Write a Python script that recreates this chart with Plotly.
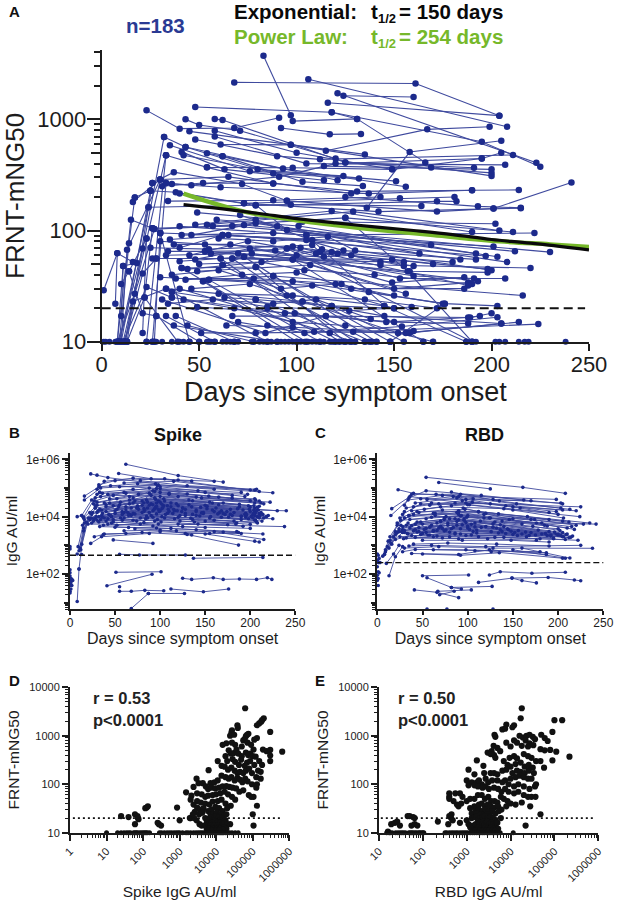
import plotly.graph_objects as go

FONT = "Liberation Sans"
NAVY = "#1c2a8c"
LINE = "#3f4a9e"
INK = "#1c1c1c"
GREEN = "#76b82a"

# Panel A: one list per participant, (day, FRNT-mNG50)
a_top = [
    [(68,2150),(161,2100),(204,1080)], [(83,3740),(97,1090)], [(106,2300),(208,858)],
    [(121,1715),(223,407)], [(124,1630),(160,1590)], [(116,1410),(204,1080)],
    [(48,1290),(118,1160),(131,1010),(166,410),(169,369)], [(23,1205),(40,825),(68,835),(91,1035)],
    [(43,1000),(50,890),(71,790),(120,445)], [(58,1010),(62,985),(125,410),(191,367)],
    [(98,965),(131,1010)], [(92,835),(117,733),(133,740)], [(115,522),(167,813),(199,858)],
    [(118,1160),(195,630),(225,375)], [(136,160),(158,508),(205,642)], [(45,780),(97,590),(135,484)],
    [(58,790),(100,500),(149,355),(195,445),(205,500)], [(32,695),(43,565),(88,326),(132,294)],
    [(35,585),(76,342),(124,310)], [(48,660),(90,467),(112,437),(211,478)], [(43,565),(93,362),(156,248)],
    [(41,510),(63,355),(114,283)], [(42,475),(80,355),(151,278)], [(33,475),(54,370),(98,367),(149,355)],
    [(61,595),(97,590),(200,310)], [(54,495),(62,467),(121,283)], [(58,700),(105,400),(207,390)],
    [(62,467),(103,275),(134,252)], [(54,370),(88,265)], [(26,268),(37,335),(72,262),(95,185)],
    [(30,288),(65,304),(128,215)], [(33,268),(46,256),(91,304),(120,400),(195,445)],
    [(36,262),(61,245),(137,215),(190,230),(214,232)], [(31,250),(52,268),(88,265),(131,225),(190,230)],
    [(25,228),(38,221),(73,176),(153,195),(181,200)], [(17,198),(25,228)], [(16,181),(30,288)],
    [(40,215),(79,168),(172,183),(182,183)], [(34,184),(88,187),(143,200)], [(24,162),(97,171),(164,166)],
    [(201,158),(241,270)], [(125,200),(193,165),(215,160)], [(95,185),(172,148),(201,158)],
    [(73,176),(142,148),(215,159)], [(114,380),(200,355)], [(125,410),(200,330)],
]
a_mid = [
    [(49,145),(103,120),(202,115)], [(48,113),(118,150),(190,97)], [(54,113),(129,148),(204,100)],
    [(57,110),(125,130),(211,97)], [(40,109),(105,91),(222,95)], [(30,95),(62,91),(169,74)],
    [(41,91),(88,95),(201,72)], [(46,91),(79,116),(192,62)], [(35,83),(65,91),(197,59)],
    [(26,105),(67,110),(212,65)], [(27,103),(73,112),(230,64)], [(59,125),(101,110),(203,58)],
    [(71,138),(108,82),(184,55)], [(79,170),(95,101),(208,52)], [(79,125),(90,109),(163,62)],
    [(34,65),(53,65),(143,49),(220,46)], [(26,56),(61,56),(155,52)], [(28,56),(67,56),(149,55),(198,45)],
    [(40,53),(73,58),(158,43),(198,42)], [(48,55),(76,69),(160,39),(191,37)], [(53,65),(89,66),(149,34),(186,38)],
    [(56,62),(95,69),(153,37),(207,37)], [(62,49),(77,62),(193,35)], [(41,46),(79,47),(98,72),(188,32)],
    [(44,45),(98,55),(150,30),(188,34)], [(49,43),(107,49),(156,27)], [(52,35),(88,39),(216,26)],
    [(55,36),(98,35),(176,22),(203,21)], [(38,37),(78,37),(123,33),(137,28),(175,22)],
    [(60,27),(98,26),(145,21)], [(63,25),(79,24),(118,21),(150,20)], [(30,38),(108,32),(150,20)],
    [(36,28),(85,20.6),(127,19),(159,20.5)], [(33,30),(103,23),(145,17),(205,14.6)],
    [(36,25),(94,18),(150,15),(188,14.6)], [(31,24),(84,12),(115,17)],
    [(49,20.5),(99,18),(146,15),(188,16.5),(194,17)], [(67,17),(115,17),(189,16.5),(200,18)],
    [(70,15),(104,12),(154,13.7),(203,16.6)], [(64,14),(98,13.5),(156,12),(214,15)],
    [(51,12),(79,12),(129,12.3),(224,14.4)], [(85,14),(109,12.3),(158,12),(205,14.6)],
]
a_extra = [
    [(40,70),(62,91),(105,82),(124,66),(192,55)], [(30,80),(53,75),(102,70),(118,64),(180,52)],
    [(25,70),(55,68),(108,74),(112,64),(170,50)], [(45,60),(75,80),(110,62),(121,62),(160,48)],
    [(33,60),(70,62),(114,58),(128,60),(143,52)], [(60,85),(88,80),(116,88),(130,66),(200,44)],
    [(37,75),(66,75),(100,60),(113,68),(155,48)], [(50,50),(82,52),(104,44),(140,40),(190,33)],
    [(43,36),(72,40),(100,42),(128,30),(186,30)], [(36,40),(60,44),(92,30),(120,33),(150,26)],
    [(46,30),(76,33),(95,26),(135,24),(172,20)], [(34,22),(57,24),(88,22),(110,24),(138,16)],
    [(42,24),(68,20),(98,15),(125,14),(160,12.5)],
]
a_falling = [
    [(30,95),(45,10)], [(22,25),(39,10)], [(28,17),(50,10)], [(33,17),(58,10)], [(38,17),(68,10)],
    [(36,28),(85,10)], [(44,14),(78,10)], [(52,35),(100,10)], [(55,36),(112,10)], [(61,56),(122,10)],
    [(41,46),(105,10)], [(67,56),(130,10)], [(62,49),(138,10)], [(79,47),(125,10)], [(88,39),(148,10)],
    [(73,58),(141,10)], [(98,55),(165,10)], [(95,69),(190,10)], [(125,130),(157,43),(190,10)],
    [(148,10),(176,22)], [(105,91),(145,21),(187,10)], [(37,14),(90,10)], [(79,24),(135,10)],
    [(103,23),(152,12),(170,10)], [(118,21),(155,10)], [(85,20),(120,10)], [(40,30),(117,12),(128,10)],
]
a_rising = [
    [(8,10),(15,125),(26,105)], [(9,10),(24,162)], [(10,10),(25,228)], [(11,10),(33,475)],
    [(12,10),(32,695)], [(13,10),(26,268)], [(8,10),(11,48),(18,51)], [(9,10),(14,77),(17,198)],
    [(10,10),(13,67),(30,288)], [(7,22),(8,62.5),(16,52)], [(1,29),(8,62.5)], [(10,17),(11,48)],
    [(10,33),(14,43),(23,85)], [(9,10),(21,69)], [(11,10),(23,31),(36,25)], [(12,10),(16,23),(33,30)],
    [(8,10),(17,27),(27,103)], [(13,10),(22,25),(26,105)], [(12,10),(21,41),(28,56)],
    [(14,43),(21,18),(28,17)], [(21,12),(23,85)], [(27,10),(30,95)], [(23,10),(33,475)], [(26,10),(33,268)],
]
a_floor_days = [1,2,4,7,8,9,10,11,13,23,26,27,28,31,36,40,42,45,50,54,55,56,58,62,64,66,68,70,77,81,83,85,
                87,90,92,94,96,98,100,102,104,106,108,110,112,114,117,118,119,124,125,127,128,130,135,137,
                139,141,148,165,170,187,190,192,202,204,207,214,217,219,238]
exp_days = [42,60,80,100,120,140,160,180,200,220,250]
exp_frnt = [171,158,143,128,117,108,100,92,83,77,67]
pow_days = [42,55,71,81,100,112,140,170,204,230,250]
pow_frnt = [215,181,151,139,124,116,102,91,80,75,71]

# Panel B: Spike IgG, (day, AU/ml)
b_upper = [
    [(23,310000),(30,280000),(42,230000),(95,140000)], [(54,320000),(90,210000),(120,190000),(160,170000)],
    [(62,670000),(120,270000),(170,160000)], [(30,90000),(38,170000),(70,220000),(135,175000)],
    [(32,130000),(50,180000),(105,210000),(210,75000)], [(16,52000),(32,110000),(75,140000),(205,85000)],
    [(16,38000),(34,100000),(98,130000),(225,68000)], [(60,150000),(115,170000),(200,85000)],
    [(45,120000),(100,95000),(190,70000)], [(55,110000),(97,120000),(160,90000)],
    [(78,180000),(130,120000),(207,90000)], [(33,70000),(70,90000),(150,70000)],
    [(36,65000),(92,80000),(197,60000)], [(42,60000),(88,100000),(180,55000)],
    [(28,45000),(60,70000),(140,48000),(205,42000)], [(27,35000),(48,55000),(120,50000),(222,32000)],
    [(30,32000),(66,50000),(110,60000),(215,28000)], [(26,28000),(52,42000),(132,38000),(210,35000)],
]
b_main = [
    [(15,9000),(30,25000),(82,30000),(205,20000)], [(24,12000),(55,26000),(100,32000),(200,22000)],
    [(28,20000),(70,30000),(150,25000),(230,16000)], [(31,16000),(62,22000),(125,20000),(240,16000)],
    [(22,8000),(40,22000),(95,40000),(198,24000)], [(25,14000),(72,35000),(165,26000)],
    [(33,18000),(85,38000),(170,30000),(210,23000)], [(36,13000),(90,28000),(178,18000)],
    [(40,26000),(94,45000),(155,32000)], [(44,30000),(100,50000),(205,30000)],
    [(48,24000),(105,35000),(188,22000)], [(35,11000),(76,18000),(140,17000),(220,11000)],
    [(29,10000),(58,15000),(116,16000),(212,14000)], [(22,9000),(50,13000),(102,19000),(195,13000)],
    [(16,6000),(32,10000),(80,14000),(148,13000),(208,10000)], [(14,5000),(28,9000),(66,12000),(128,11000)],
    [(27,8500),(46,10000),(108,13000),(190,10000)], [(34,8000),(68,11000),(120,9500),(225,8500)],
    [(38,9000),(92,16000),(172,12000),(215,9000)], [(43,12000),(86,20000),(160,15000),(205,11000)],
    [(52,18000),(96,30000),(145,21000),(200,15000)], [(60,14000),(104,24000),(168,16000),(210,13000)],
    [(65,11000),(110,15000),(180,11000)], [(75,24000),(118,28000),(192,17000)],
    [(82,19000),(125,20000),(203,12000)], [(88,25000),(135,22000),(209,17000)],
    [(56,9000),(92,9500),(155,9000),(205,7500)], [(40,7000),(84,8500),(136,8000),(207,6500)],
    [(30,7500),(70,7500),(122,7000),(185,6000)], [(24,6000),(48,6500),(98,5500),(175,5200)],
    [(20,5500),(42,5500),(92,4700),(150,4200)], [(37,5000),(78,5500),(125,4500),(200,3900)],
    [(33,4500),(65,4200),(112,3900),(185,3000)], [(50,4300),(96,4000),(140,3500),(187,2800)],
    [(60,3200),(100,3400),(128,2600),(190,2600)], [(72,3800),(118,3200),(170,2900),(214,2500)],
    [(38,2500),(62,2600),(100,3000),(155,2600)], [(27,2000),(37,2400),(80,2800),(135,2300)],
    [(23,1170),(35,2000),(88,2600)], [(48,1550),(92,1170)], [(130,2400),(187,1020)],
    [(150,2500),(205,1400),(210,1300)], [(160,3000),(215,1600)], [(120,5500),(238,4500)],
    [(8,10000),(13,11000),(15,9500)], [(13,11000),(24,38000),(33,70000)], [(15,9500),(30,60000)],
    [(10,150),(15,3200),(28,20000)], [(8,11),(10,150)], [(9,900),(16,8000)], [(11,800),(18,6500)],
    [(13,1100),(20,9000)], [(12,700),(22,14000)], [(10,650),(15,4000),(24,9000)],
]
b_dense = [
    [(30,14000),(68,20000),(102,27000),(152,19000),(206,14000)], [(35,17000),(75,22000),(108,24000),(158,17000),(214,12000)],
    [(40,15000),(80,25000),(112,22000),(162,20000),(199,18000)], [(45,11000),(83,17000),(95,21000),(166,14000),(203,9000)],
    [(50,16000),(88,14000),(115,18000),(170,13000),(218,10000)], [(54,22000),(92,26000),(120,24000),(174,15000),(207,16000)],
    [(58,12000),(94,19000),(124,15000),(178,12000),(195,9500)], [(62,17000),(96,23000),(128,18000),(182,14000),(211,11000)],
    [(66,28000),(98,35000),(132,26000),(186,19000),(208,21000)], [(70,13000),(100,16000),(136,12000),(190,10500)],
    [(74,20000),(103,21000),(140,15000),(194,12000),(204,13500)], [(78,9000),(106,12000),(144,10500),(198,8500)],
    [(82,15000),(109,18000),(148,14000),(201,10000)], [(86,32000),(112,30000),(152,23000),(204,16500)],
    [(90,11000),(114,13000),(156,10000),(206,7500)], [(94,7000),(116,8500),(160,7500),(208,6000)],
    [(98,18000),(119,16000),(164,12500),(210,9000)], [(102,10000),(122,11000),(168,9500),(213,7000)],
    [(32,6500),(60,9000),(96,12500),(140,11000),(190,8000)], [(42,8500),(72,12500),(99,15000),(146,13500),(196,11500)],
    [(26,7000),(48,8000),(85,10500),(134,9000),(182,7000)], [(36,9500),(64,14000),(93,17500),(128,13000),(176,9500)],
    [(46,6000),(74,7000),(97,8000),(138,6500),(184,5500)], [(52,5000),(82,6200),(101,6500),(142,5500),(192,4600)],
    [(58,7500),(86,9000),(105,9000),(150,7000),(200,5400)], [(38,30000),(66,38000),(104,42000),(158,30000),(204,24000)],
    [(28,24000),(56,32000),(90,55000),(136,36000),(188,27000)], [(44,42000),(76,60000),(100,70000),(146,45000),(200,36000)],
    [(34,50000),(62,65000),(94,75000),(154,52000),(206,38000)], [(70,45000),(96,95000),(130,62000),(180,44000)],
    [(80,35000),(100,110000),(142,80000),(194,50000)], [(88,65000),(110,65000),(165,48000),(212,30000)],
]
b_lower = [
    [(51,115),(101,120)], [(41,39),(91,98)], [(55,25),(68,25),(83,27),(104,26)], [(87,21),(127,21)],
    [(112,30),(148,24),(176,30)], [(68,6.3),(87,21)],
    [(125,71),(135,65),(159,74),(170,65),(188,67),(207,65),(219,74),(224,65)],
    [(137,355),(214,380)], [(55,490),(77,460),(128,460)], [(8,500),(13,480)],
]
b_single_day = [0,0,0,0,0,1,1,1,1,1,2,2,3,0,0,55]
b_single_igg = [900,750,140,110,85,70,60,50,40,30,65,40,60,25,22,36]

# Panel C: RBD IgG, (day, AU/ml)
c_upper = [
    [(54,235000),(161,105000),(208,65000)], [(68,155000),(125,93000)], [(23,87000),(40,65000),(90,50000)],
    [(35,45000),(54,80000),(115,55000),(205,28000)], [(30,25000),(38,60000),(92,60000),(162,38000)],
    [(16,19000),(36,50000),(98,30000),(225,22000)], [(15,11000),(34,38000),(72,55000),(198,40000)],
    [(48,42000),(98,40000),(170,36000)], [(65,60000),(128,40000),(203,30000)], [(82,72000),(135,35000),(213,18000)],
    [(42,30000),(88,45000),(150,22000),(220,16000)], [(32,20000),(60,30000),(125,28000),(205,17000)],
    [(28,12000),(48,28000),(102,26000),(190,14000)], [(38,16000),(70,22000),(140,19000),(224,10000)],
    [(25,9000),(44,15000),(112,15000),(235,6000)],
]
c_main = [
    [(22,6000),(40,12000),(90,12000),(170,8000)], [(30,9000),(64,13000),(118,12000),(205,7000)],
    [(35,11000),(76,10000),(150,8500),(228,5500)], [(26,7500),(54,8500),(100,11000),(215,4500)],
    [(32,5000),(70,7000),(130,6500),(242,5500)], [(20,3000),(42,5500),(96,8500),(160,5500)],
    [(24,3800),(50,5500),(108,6000),(200,3800)], [(28,3500),(60,5000),(120,4500),(190,3000)],
    [(22,2800),(46,4200),(88,5000),(145,3500),(210,2500)], [(27,3000),(52,3600),(100,4000),(170,2800)],
    [(30,2800),(66,3300),(92,3800),(138,3000),(200,2300)], [(33,2600),(74,3200),(126,3000),(192,2100)],
    [(36,4000),(82,3800),(134,2700),(188,2200)], [(40,3200),(86,2700),(142,2600),(205,2000)],
    [(44,2900),(92,2500),(150,2400),(214,1900)], [(48,2400),(98,2200),(155,2200),(195,1800)],
    [(25,2000),(56,2300),(104,2300),(165,2000)], [(29,1700),(62,2000),(112,2000),(180,1700)],
    [(20,1600),(38,2200),(80,2000),(130,1900),(208,1600)], [(32,1800),(72,1800),(122,1700),(176,1500)],
    [(42,1900),(90,1700),(140,1900),(222,1500)], [(50,1500),(94,1500),(148,1500),(190,1300)],
    [(54,2800),(110,3400),(175,2300)], [(68,4000),(115,4200),(182,2500)], [(78,6000),(128,4300),(198,2500)],
    [(86,8500),(136,5200),(205,2800)], [(95,20000),(146,8000),(210,4000)], [(90,15000),(125,9000),(185,5000)],
    [(40,1100),(78,1200),(132,1100),(190,950)], [(35,950),(60,1000),(120,900),(225,1000)],
    [(30,800),(68,900),(128,800),(238,790)], [(62,700),(108,650),(180,600)], [(50,500),(92,450),(135,550)],
    [(28,600),(42,720),(98,700),(187,550)], [(38,520),(90,480),(124,700),(187,480)],
    [(126,600),(205,355)], [(150,700),(208,355)], [(160,800),(213,360)], [(14,2000),(22,5000),(35,11000)],
    [(16,1100),(24,3000),(34,6000)], [(8,500),(13,800),(20,2400)], [(10,235),(18,500),(24,1000)],
    [(13,87),(20,400),(28,900)], [(9,600),(15,1200),(28,2800)], [(11,900),(18,2000),(26,5000)],
    [(6,420),(9,700),(12,1400)], [(8,480),(14,1500),(30,15000)],
]
c_dense = [
    [(30,3300),(58,4300),(88,6800),(132,4000),(186,2600)], [(34,2500),(62,3100),(94,5200),(136,3500),(192,2300)],
    [(38,4800),(66,6000),(96,7500),(140,4500),(196,2900)], [(42,3500),(70,4600),(98,6200),(144,3800),(200,2500)],
    [(46,3000),(72,3900),(100,4700),(148,3100),(203,2200)], [(50,2600),(76,3400),(102,3600),(152,2800),(206,2000)],
    [(54,3900),(78,5000),(104,5400),(156,3300),(209,2400)], [(58,2300),(80,2900),(106,3000),(160,2500),(212,1850)],
    [(62,3300),(84,4200),(108,4400),(164,2900),(216,2100)], [(66,2100),(86,2500),(110,2700),(168,2200),(195,1700)],
    [(70,6800),(90,7800),(114,7000),(172,4600),(202,3300)], [(74,9000),(92,10500),(118,9000),(176,6000),(218,3600)],
    [(46,14000),(72,17000),(97,18000),(134,12500),(190,8000)], [(52,18000),(82,24000),(100,26000),(150,17000),(206,9000)],
    [(58,25000),(86,30000),(105,32000),(158,20000),(200,12000)], [(64,11000),(88,14000),(112,14500),(166,10000),(212,6500)],
    [(36,8000),(60,9500),(93,11000),(124,9000),(182,6000)], [(40,22000),(68,28000),(94,36000),(142,24000),(198,15000)],
    [(44,6500),(74,8000),(99,9500),(138,7000),(188,4700)], [(55,40000),(84,50000),(106,42000),(154,28000),(203,20000)],
    [(62,13000),(90,16000),(120,13000),(174,8000),(220,5000)], [(28,4500),(48,6500),(80,8500),(128,5600),(178,3400)],
]
c_lower = [
    [(50,87),(101,93)], [(55,74),(82,34),(93,30)], [(82,34),(127,37)], [(41,28),(66,23),(90,15)],
    [(67,25),(104,28)], [(69,19),(85,25)], [(112,51),(149,72),(160,59),(176,49)],
    [(124,93),(136,120),(171,107),(208,115)], [(149,72),(189,76),(218,62),(225,58)],
]
c_single_day = [0,0,0,0,0,1,1,1,1,1,2,2,3,55,77,128]
c_single_igg = [500,300,180,90,60,450,250,120,70,40,350,110,250,6,6,6]

# Panel D: (Spike IgG AU/ml, FRNT-mNG50)
d_upper = [
    (62000,3700),(200000,2300),(180000,2100),(170000,1950),(150000,1800),(130000,1650),(38000,1650),(39000,1450),
    (27000,1300),(26000,1150),(24000,1000),(31000,1050),(76000,1100),(70000,1050),(65000,980),(60000,850),(55000,800),
    (130000,900),(110000,830),(300000,1200),(15000,650),(19000,700),(27000,720),(33000,650),(50000,600),(72000,720),
    (90000,650),(105000,520),(190000,520),(240000,480),(300000,510),(300000,390),(300000,300),(640000,470),
    (22000,500),(25000,430),(30000,440),(36000,520),(40000,430),(50000,380),(65000,450),(75000,400),(85000,430),
    (100000,380),(120000,370),(150000,300),(180000,250),(18000,380),(20000,300),(28000,330),(33000,290),(42000,250),
    (48000,320),(60000,240),(70000,280),(85000,300),(110000,250),(140000,190),(165000,180),(11000,300),(14000,240),
    (17000,230),(21000,200),(26000,220),(32000,190),(38000,170),(45000,180),(55000,170),(65000,190),(80000,210),
    (95000,170),(125000,140),(165000,130),
]
d_mid = [
    (6200,195),(7000,105),(9000,110),(11000,120),(14000,150),(18000,140),(22000,130),(26000,140),(32000,120),(38000,135),
    (44000,125),(52000,110),(62000,130),(72000,115),(95000,100),(125000,85),(130000,100),(78000,60),(90000,55),(105000,55),
    (2900,130),(1500,68),(2100,58),(2400,88),(3300,105),(4300,105),(5200,90),(6000,80),(7500,85),(9500,82),(12000,85),(15000,90),
    (19000,92),(23000,88),(28000,85),(35000,82),(43000,70),(55000,75),(3000,65),(4000,62),(5000,55),(6000,58),(8000,60),(10000,62),
    (13000,65),(17000,70),(21000,62),(27000,55),(33000,48),(2000,48),(3000,45),(3800,42),(5000,40),(6500,38),(8000,44),(11000,45),
    (14000,48),(18000,40),(25000,36),(2400,38),(3000,33),(3600,30),(4500,32),(6000,28),(7500,30),(9500,34),(12000,32),(15000,28),
    (20000,32),(2600,27),(3400,24),(4200,26),(7000,24),(8500,25),(10500,26),(13000,24),(16000,22),(19000,24),(130000,36),(100000,24),
]
d_low = [
    (5000,20),(6000,19),(7000,21),(8000,18),(9000,20),(10000,22),(11000,19),(12000,21),(13000,18),(14500,20),(16000,19),(18000,18),
    (5500,16),(6500,15),(7500,16),(8500,15),(9500,17),(10500,16),(11500,15),(13000,16),(15000,15),(17000,16),(20000,15),(24000,15),
    (5000,14),(6000,13),(7000,14),(8000,13),(9000,14),(10000,13),(11000,14),(12000,13),(14000,13),(16000,13),(19000,12),(105000,14),
    (5500,12),(6500,12),(7500,11.5),(8500,12),(9500,11.5),(10500,12),(11500,11.5),(13000,12),(15000,11.5),(6000,11),(8000,11),(10000,11),(12000,11),
    (2000,20),(3500,15),(2900,18),(4000,14),(850,33),(1000,18),(1900,20),(2300,24),(2500,20),(3900,26),
    (25,22),(40,21),(60,24),(70,22),(75,19),(60,15),(72,20),(115,32),(125,33),(135,35),(250,16),(270,15),(310,14),
]
d_floor_spike = [10,20,25,30,35,40,45,55,60,65,70,80,90,100,110,120,130,150,280,320,380,450,520,600,700,800,900,1000,1200,1500,1700,
                 2000,2400,2800,3200,3600,4000,4500,5000,5500,6000,6500,7000,8000,9000,10000,11000,12000,13000,14000,15000,16000,
                 18000,20000,23000,27000,33000,40000]

# Panel E: (RBD IgG AU/ml, FRNT-mNG50)
e_upper = [
    (18000,3700),(17000,2300),(100000,2100),(150000,2100),(8000,1700),(12000,1650),(11000,1500),(6500,1350),(7500,1400),(90000,1200),
    (4300,1050),(4500,950),(16000,1000),(19000,920),(23000,1000),(27000,1050),(32000,950),(36000,850),(50000,1050),(60000,900),
    (70000,780),(12000,800),(14000,720),(22000,800),(27000,700),(4100,620),(5000,560),(3700,480),(5800,480),(8000,720),(10000,600),
    (18000,620),(25000,600),(33000,640),(48000,530),(60000,500),(80000,510),(110000,470),(90000,310),(220000,370),(3000,450),(3500,420),
    (4200,400),(4500,350),(9500,350),(12000,380),(14000,340),(20000,420),(25000,380),(30000,350),(38000,300),(48000,300),(58000,220),
    (1700,310),(2400,240),(7000,300),(8500,250),(10000,230),(13000,260),(17000,280),(21000,230),(26000,250),(32000,220),(2500,170),
    (3500,170),(4200,170),(5000,160),(6500,190),(8000,200),(11000,170),(14000,190),(17000,180),(21000,170),(26000,190),(34000,170),
    (10000,130),(13000,140),(16000,150),(20000,140),(25000,130),(30000,130),(38000,100),
]
e_mid = [
    (1000,120),(1100,200),(1300,110),(1500,160),(1700,110),(1900,120),(2200,100),(2700,130),(3100,110),(3800,120),(5000,120),(6500,110),
    (7500,120),(9000,100),(12000,90),(15000,100),(20000,90),(27000,80),(36000,90),(1100,95),(1500,95),(1800,90),(2300,85),(2700,90),(3200,80),
    (4200,85),(5200,80),(6200,70),(7500,80),(9000,70),(12000,65),(15000,70),(20000,60),(30000,55),(25000,55),(37000,55),
    (400,65),(400,55),(400,50),(550,65),(700,65),(800,55),(500,45),(600,38),(650,35),(750,40),(1000,45),(1200,50),(1500,50),(1800,60),(2200,60),
    (2600,50),(3100,55),(3600,45),(4300,45),(5000,42),(6000,55),(7000,50),(8500,45),(10000,40),(13000,38),(18000,42),(28000,35),
    (1500,35),(1900,38),(2200,40),(2600,35),(3000,38),(3500,35),(4200,33),(5200,35),(6200,30),(8000,35),(1600,28),(1900,30),(2300,28),(2700,30),
    (3200,28),(3800,28),(4500,25),(5400,28),(450,24),(400,22),(1200,32),(48000,24),(1300,25),(1700,25),(2100,24),(2500,23),(3000,24),(3400,22),
]
e_low = [
    (16,10.5),(19,15),(23,16),(26,17),(30,14),(45,22),(50,22),(60,21),(65,20),(55,14),(65,15),(75,14),(220,17),(380,15),(440,20),
    (480,18),(700,16),(1000,18),(1100,15),(1300,20),(1500,21),(1700,22),(2000,20),(2300,21),(2600,22),(3000,20),(3500,21),(4000,20),(4500,18),
    (1200,13),(1400,14),(1600,15),(1800,17),(2000,16),(2200,14),(2400,17),(2600,15),(2800,16),(3000,17),(3300,15),(3600,16),(4000,15),(4500,14),(5000,16),
    (1300,12),(1500,11.5),(1700,12),(1900,13),(2100,12),(2300,11.5),(2500,12),(2700,13),(2900,12),(3100,11.5),(3400,12),(3700,13),(4100,12),(4600,11.5),(5200,12),
    (1600,11),(2000,11),(2400,11),(2800,11),(3200,11),(3800,11),(4400,11),(22000,14),(6000,20),
]
e_floor_rbd = [15,17,18,20,24,27,30,33,36,40,48,52,56,60,66,72,80,85,92,100,105,320,350,400,450,500,560,620,700,780,860,950,1050,1200,1350,
               1500,1700,1900,2100,2300,2500,2800,3100,3400,3800,4200,4700,5200,5800,11500]

a_y_ticks = [10,100,1000]
a_y_mid = [50,500]
a_y_minor = [20,30,40,60,70,80,90,200,300,400,600,700,800,900,2000,3000,4000]
day_ticks = [0,50,100,150,200,250]
igg_ticks = [100,10000,1000000]
igg_text = ["1e+02","1e+04","1e+06"]
igg_mid = [10,1000,100000]
igg_minor = [m * 10**e for e in range(0, 6) for m in range(2, 10) if 6 <= m * 10**e <= 1700000]
frnt_ticks = [10,100,1000,10000]
frnt_minor = [m * 10**e for e in range(1, 4) for m in range(2, 10)]
spike_ticks = [1,10,100,1000,10000,100000,1000000]
rbd_ticks = [10,100,1000,10000,100000,1000000]
scatter_minor = [m * 10**e for e in range(0, 6) for m in range(2, 10)]


def flatten(patients):
    xs, ys = [], []
    for p in patients:
        xs += [v[0] for v in p] + [None]
        ys += [v[1] for v in p] + [None]
    return xs, ys


def axis_common(size, pull=0):
    return dict(showgrid=False, zeroline=False, showline=True, linewidth=2, linecolor=INK,
                ticks="outside", tickwidth=2, tickcolor=INK, color=INK, ticklabelstandoff=pull,
                tickfont=dict(family=FONT, size=size, color=INK))


def px_dom(a, b):
    return [a / 617, b / 617]


def py_dom(bottom, top):
    return [1 - bottom / 900, 1 - top / 900]


fig = go.Figure()


def lines(patients, xa, ya, width, size):
    xs, ys = flatten(patients)
    fig.add_trace(go.Scatter(x=xs, y=ys, xaxis=xa, yaxis=ya, mode="lines+markers", cliponaxis=False,
                             line=dict(color=LINE, width=width), marker=dict(color=NAVY, size=size),
                             showlegend=False, hoverinfo="skip"))


def dots(xs, ys, xa, ya, color, size):
    fig.add_trace(go.Scatter(x=xs, y=ys, xaxis=xa, yaxis=ya, mode="markers", cliponaxis=False,
                             marker=dict(color=color, size=size), showlegend=False, hoverinfo="skip"))


def level(xs, ys, xa, ya, dash, width=2):
    fig.add_trace(go.Scatter(x=xs, y=ys, xaxis=xa, yaxis=ya, mode="lines", cliponaxis=False,
                             line=dict(color="#111111", width=width, dash=dash), showlegend=False,
                             hoverinfo="skip"))


# A
lines(a_top + a_mid + a_extra + a_falling + a_rising, "x", "y", 1.1, 6.5)
dots(a_floor_days, [10] * len(a_floor_days), "x", "y", NAVY, 6)
level([0, 248], [20, 20], "x", "y6", "9px,5px")
fig.add_trace(go.Scatter(x=pow_days, y=pow_frnt, mode="lines", line=dict(color=GREEN, width=4.5, shape="spline"),
                         showlegend=False, hoverinfo="skip"))
fig.add_trace(go.Scatter(x=exp_days, y=exp_frnt, mode="lines", line=dict(color="#0a0a0a", width=3.2, shape="spline"),
                         showlegend=False, hoverinfo="skip"))

# B
lines(b_upper + b_main + b_dense + b_lower, "x2", "y2", 0.9, 3.6)
dots(b_single_day, b_single_igg, "x2", "y2", NAVY, 3.6)
level([0, 250], [450, 450], "x2", "y7", "6px,3px", 1.4)

# C
lines(c_upper + c_main + c_dense + c_lower, "x3", "y3", 0.9, 3.6)
dots(c_single_day, c_single_igg, "x3", "y3", NAVY, 3.6)
level([0, 252], [250, 250], "x3", "y8", "6px,3px", 1.4)

# D
d_all = d_upper + d_mid + d_low
dots([p[0] for p in d_all], [p[1] for p in d_all], "x4", "y4", "#111111", 6.2)
dots(d_floor_spike, [10] * len(d_floor_spike), "x4", "y4", "#111111", 5)
level([1.2, 600000], [20, 20], "x4", "y4", "2px,3px", 1.8)

# E
e_all = e_upper + e_mid + e_low
dots([p[0] for p in e_all], [p[1] for p in e_all], "x5", "y5", "#111111", 6.2)
dots(e_floor_rbd, [10] * len(e_floor_rbd), "x5", "y5", "#111111", 5)
level([11, 800000], [20, 20], "x5", "y5", "2px,3px", 1.8)


def title(text, size, standoff):
    return dict(text=text, font=dict(family=FONT, size=size, color=INK), standoff=standoff)


def overlay(domain, rng, base, anchor, tickvals, ticklen, width):
    # unlabelled half-length ticks that sit between the main and the small ones
    return dict(domain=domain, type="log", range=rng, overlaying=base, anchor=anchor, tickvals=tickvals,
                ticks="outside", ticklen=ticklen, tickwidth=width, tickcolor=INK, showticklabels=False,
                showline=False, showgrid=False, zeroline=False)


fig.update_layout(
    width=617, height=900, margin=dict(l=0, r=0, t=0, b=0, autoexpand=False), paper_bgcolor="white", plot_bgcolor="white",
    font=dict(family=FONT, color=INK), showlegend=False,
    xaxis=dict(**axis_common(22, -5), domain=px_dom(101.7, 589), range=[0, 250], tickvals=day_ticks, ticklen=7,
               title=title("Days since symptom onset", 27, 6)),
    yaxis=dict(**axis_common(22, -4), domain=py_dom(341.7, 50), type="log", range=[1, 3.624], tickvals=a_y_ticks, ticklen=13,
               minor=dict(ticks="outside", ticklen=6, tickwidth=1.5, tickcolor=INK, tickvals=a_y_minor),
               title=title("FRNT-mNG50", 26, 12)),
    yaxis6=overlay(py_dom(341.7, 50), [1, 3.624], "y", "x", a_y_mid, 10, 1.5),
    xaxis2=dict(**axis_common(12, -3), domain=px_dom(70, 295.3), range=[0, 250], tickvals=day_ticks, ticklen=4, anchor="y2",
                title=title("Days since symptom onset", 16, 4)),
    yaxis2=dict(**axis_common(12), domain=py_dom(609.3, 452.7), type="log", range=[0.77, 6.23], anchor="x2", tickvals=igg_ticks,
                ticktext=igg_text, ticklen=6, minor=dict(ticks="outside", ticklen=3, tickwidth=1, tickcolor=INK, tickvals=igg_minor),
                title=title("IgG AU/ml", 15.5, 4)),
    yaxis7=overlay(py_dom(609.3, 452.7), [0.77, 6.23], "y2", "x2", igg_mid, 5, 1.5),
    xaxis3=dict(**axis_common(12, -3), domain=px_dom(377.3, 603.3), range=[0, 250], tickvals=day_ticks, ticklen=4, anchor="y3",
                title=title("Days since symptom onset", 16, 4)),
    yaxis3=dict(**axis_common(12), domain=py_dom(609.3, 452.7), type="log", range=[0.77, 6.23], anchor="x3", tickvals=igg_ticks,
                ticktext=igg_text, ticklen=6, minor=dict(ticks="outside", ticklen=3, tickwidth=1, tickcolor=INK, tickvals=igg_minor),
                title=title("IgG AU/ml", 15.5, 4)),
    yaxis8=overlay(py_dom(609.3, 452.7), [0.77, 6.23], "y3", "x3", igg_mid, 5, 1.5),
    xaxis4=dict(**axis_common(11), domain=px_dom(70, 289.3), type="log", range=[0, 6], tickvals=spike_ticks,
                ticktext=[str(v) for v in spike_ticks], tickangle=-45, ticklen=6, anchor="y4",
                minor=dict(ticks="outside", ticklen=3, tickwidth=1, tickcolor=INK, tickvals=scatter_minor),
                title=title("Spike IgG AU/ml", 15.5, 3)),
    yaxis4=dict(**axis_common(11), domain=py_dom(832.7, 687.3), type="log", range=[1, 4], tickvals=frnt_ticks,
                ticktext=[str(v) for v in frnt_ticks], ticklen=6, anchor="x4",
                minor=dict(ticks="outside", ticklen=3, tickwidth=1, tickcolor=INK, tickvals=frnt_minor),
                title=title("FRNT-mNG50", 15.5, 6)),
    xaxis5=dict(**axis_common(11), domain=px_dom(379, 598.3), type="log", range=[1, 6], tickvals=rbd_ticks,
                ticktext=[str(v) for v in rbd_ticks], tickangle=-45, ticklen=6, anchor="y5",
                minor=dict(ticks="outside", ticklen=3, tickwidth=1, tickcolor=INK, tickvals=scatter_minor),
                title=title("RBD IgG AU/ml", 15.5, 3)),
    yaxis5=dict(**axis_common(11), domain=py_dom(832.7, 687.3), type="log", range=[1, 4], tickvals=frnt_ticks,
                ticktext=[str(v) for v in frnt_ticks], ticklen=6, anchor="x5",
                minor=dict(ticks="outside", ticklen=3, tickwidth=1, tickcolor=INK, tickvals=frnt_minor),
                title=title("FRNT-mNG50", 15.5, 6)),
)


def note(text, x, y, size, color=INK, bold=True, anchor="left"):
    if bold:
        text = "<b>" + text + "</b>"
    fig.add_annotation(text=text, x=x / 617, y=1 - y / 900, xref="paper", yref="paper", xanchor=anchor, yanchor="middle",
                       showarrow=False, font=dict(family=FONT, size=size, color=color))


for letter, lx, ly in [("A", 7, 12), ("B", 7, 432), ("C", 313, 432), ("D", 7, 680), ("E", 313, 680)]:
    note(letter, lx, ly, 15, "#111111")
note("n=183", 155, 25, 20.5, "#2a3a93", anchor="center")
for row_y, label, half_life, color in [(12, "Exponential:", "= 150 days", "#0a0a0a"), (37, "Power Law:", "= 254 days", GREEN)]:
    note(label, 232, row_y, 20.5, color)
    note("t", 369, row_y, 20.5, color)
    note("1/2", 376, row_y + 7, 13, color)
    note(half_life, 397, row_y, 20.5, color)
note("Spike", 178, 435, 18, "#111111", anchor="center")
note("RBD", 484, 435, 18, "#111111", anchor="center")
note("r = 0.53", 91, 698, 16.5, "#222222")
note("p&lt;0.0001", 91, 720, 16.5, "#222222")
note("r = 0.50", 396, 698, 16.5, "#222222")
note("p&lt;0.0001", 396, 720, 16.5, "#222222")

fig.write_html("out.html", config={"displayModeBar": False}, post_script="document.body.style.margin='0';")
